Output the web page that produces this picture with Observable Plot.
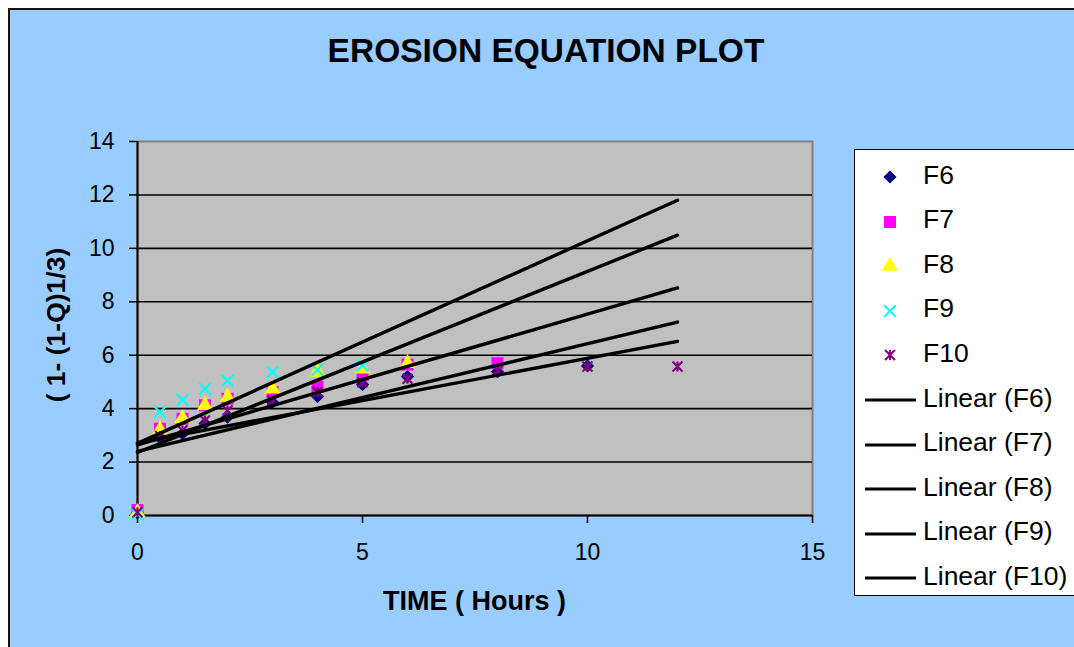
<!DOCTYPE html>
<html>
<head>
<meta charset="utf-8">
<script src="https://cdn.jsdelivr.net/npm/d3@7"></script>
<script src="https://cdn.jsdelivr.net/npm/@observablehq/plot@0.6"></script>
<style>
  body { margin: 0; background: #ffffff; font-family: "Liberation Sans", Arial, sans-serif; }
  #chart { position: relative; width: 1074px; height: 647px; overflow: hidden; }
  #bg { position: absolute; left: 8px; top: 8px; width: 1100px; height: 700px; background: #99CCFF; border: 2px solid #111; box-sizing: border-box; }
  #title { position: absolute; left: 0; width: 1092px; top: 34px; text-align: center; font-weight: bold; font-size: 33.5px; line-height: 1; color: #000; }
  #xtitle { position: absolute; left: 137px; width: 675px; top: 588px; text-align: center; font-weight: bold; font-size: 27px; line-height: 1; }
  #ytitle { position: absolute; left: -94px; width: 300px; top: 312px; text-align: center; font-weight: bold; font-size: 26.5px; line-height: 1; transform: rotate(-90deg); transform-origin: 150px 13px; }
  #plot { position: absolute; left: 0; top: 0; }
  #legend { position: absolute; left: 854px; top: 149px; width: 260px; height: 447px; background: #fff; border: 1.5px solid #000; box-sizing: border-box; }
  .item { position: absolute; left: 0; height: 30px; }
  .lab { position: absolute; left: 68px; font-size: 26.5px; line-height: 1; white-space: nowrap; color: #000; }
  .sym { position: absolute; left: 0; top: 0; }
</style>
</head>
<body>
<div id="chart">
  <div id="bg"></div>
  <div id="title">EROSION EQUATION PLOT</div>
  <div id="plot"></div>
  <div id="ytitle">( 1- (1-Q)1/3)</div>
  <div id="xtitle">TIME ( Hours )</div>
  <div id="legend"></div>
</div>
<script>
// ---- data ----
const times = [0, 0.5, 1, 1.5, 2, 3, 4, 5, 6, 8, 10, 12];
const seriesNames = ["F6", "F7", "F8", "F9", "F10"];
const f6  = [0.10, 2.90, 3.06, 3.44, 3.68, 4.24, 4.45, 4.90, 5.20, 5.38, 5.60, null];
const f7  = [0.20, 3.25, 3.62, 4.12, 4.37, 4.62, 4.82, 5.24, 5.65, 5.70, null, null];
const f8  = [0.12, 3.21, 3.64, 4.12, 4.43, 4.74, 5.37, 5.49, 5.70, null, null, null];
const f9  = [0.05, 3.87, 4.33, 4.74, 5.05, 5.37, 5.45, 5.62, null, null, null, null];
const f10 = [0.12, 2.98, 3.18, 3.56, 3.93, 4.31, 4.62, 4.99, 5.12, 5.43, 5.58, 5.58];
const xTicks = [0, 5, 10, 15];
const yTicks = [0, 2, 4, 6, 8, 10, 12, 14];

// Excel-style "star" marker: an x with a vertical bar
const starSymbol = {
  draw(context, size) {
    const r = Math.sqrt(size) * 0.5;
    context.moveTo(-r, -r); context.lineTo(r, r);
    context.moveTo(-r, r); context.lineTo(r, -r);
    context.moveTo(0, -r); context.lineTo(0, r);
  }
};

// ---- styles ----
const seriesValues = [f6, f7, f8, f9, f10];
const styles = {
  F6:  {symbol: d3.symbolDiamond2, fill: "#000080", stroke: "none", r: 5.9},
  F7:  {symbol: d3.symbolSquare,   fill: "#FF00FF", stroke: "none", r: 6.8},
  F8:  {symbol: d3.symbolTriangle, fill: "#FFFF00", stroke: "none", r: 6.0},
  F9:  {symbol: d3.symbolTimes,    fill: "none", stroke: "#00FFFF", r: 5.4},
  F10: {symbol: starSymbol,        fill: "none", stroke: "#800080", r: 5.6}
};

const rows = [];
seriesNames.forEach((s, i) => {
  times.forEach((t, j) => {
    const v = seriesValues[i][j];
    if (v != null) rows.push({series: s, t, v});
  });
});

// least-squares trend lines (Excel "Linear" trendline), drawn over the time range
const tMax = d3.max(times);
const trends = [];
seriesNames.forEach(s => {
  const pts = rows.filter(d => d.series === s);
  const mt = d3.mean(pts, d => d.t), mv = d3.mean(pts, d => d.v);
  const sxy = d3.sum(pts, d => (d.t - mt) * (d.v - mv));
  const sxx = d3.sum(pts, d => (d.t - mt) ** 2);
  const m = sxy / sxx, b = mv - m * mt;
  trends.push({series: s, t: 0, v: b});
  trends.push({series: s, t: tMax, v: b + m * tMax});
});

const marks = [
  Plot.frame({fill: "#C0C0C0", stroke: "#808080", strokeWidth: 2}),
  Plot.ruleY(yTicks.filter(v => v > 0 && v < d3.max(yTicks)), {stroke: "#000", strokeWidth: 1.6}),
  Plot.ruleX([0], {stroke: "#000", strokeWidth: 2}),
  Plot.ruleY([0], {stroke: "#000", strokeWidth: 2}),
  Plot.axisX({ticks: xTicks, tickSize: 8, tickPadding: 20, label: null, stroke: "#000", strokeWidth: 1.5}),
  Plot.axisY({ticks: yTicks, tickSize: 8, tickPadding: 15, label: null, stroke: "#000", strokeWidth: 1.5})
];
seriesNames.forEach(s => {
  const st = styles[s];
  marks.push(Plot.dot(rows.filter(d => d.series === s), {
    x: "t", y: "v", symbol: st.symbol, r: st.r,
    fill: st.fill, stroke: st.stroke, strokeWidth: st.stroke === "none" ? 0 : 2.1
  }));
});
marks.push(Plot.line(trends, {x: "t", y: "v", z: "series", stroke: "#000", strokeWidth: 3.4}));

const chart = Plot.plot({
  width: 1074,
  height: 647,
  marginLeft: 137,
  marginRight: 262,
  marginTop: 141,
  marginBottom: 132,
  x: {domain: [0, 15], axis: null},
  y: {domain: [0, 14], axis: null},
  style: {background: "transparent", fontFamily: "'Liberation Sans', Arial, sans-serif", fontSize: "23px", color: "#000", overflow: "visible"},
  marks
});
document.getElementById("plot").appendChild(chart);

// ---- legend ----
const legend = document.getElementById("legend");
const rowTop = 176 - 149, rowStep = 44.6;
const entries = [
  ...seriesNames.map(s => ({kind: "dot", s, text: s})),
  ...seriesNames.map(s => ({kind: "line", s, text: `Linear (${s})`}))
];
entries.forEach((e, i) => {
  const cy = rowTop + i * rowStep;
  const item = document.createElement("div");
  item.className = "item";
  item.style.top = (cy - 15) + "px";
  item.style.width = "240px";
  const svg = d3.create("svg").attr("class", "sym").attr("width", 64).attr("height", 30);
  if (e.kind === "dot") {
    const st = styles[e.s];
    svg.append("path")
      .attr("transform", "translate(35,15)")
      .attr("d", d3.symbol(st.symbol, st.r * st.r * Math.PI)())
      .attr("fill", st.fill)
      .attr("stroke", st.stroke)
      .attr("stroke-width", st.stroke === "none" ? 0 : 2.1);
  } else {
    svg.append("line").attr("x1", 10).attr("x2", 61).attr("y1", 15).attr("y2", 15)
      .attr("stroke", "#000").attr("stroke-width", 3.2);
  }
  item.appendChild(svg.node());
  const lab = document.createElement("div");
  lab.className = "lab";
  lab.textContent = e.text;
  lab.style.top = (15 + 7 - 22.4) + "px";
  item.appendChild(lab);
  legend.appendChild(item);
});
</script>
</body>
</html>
